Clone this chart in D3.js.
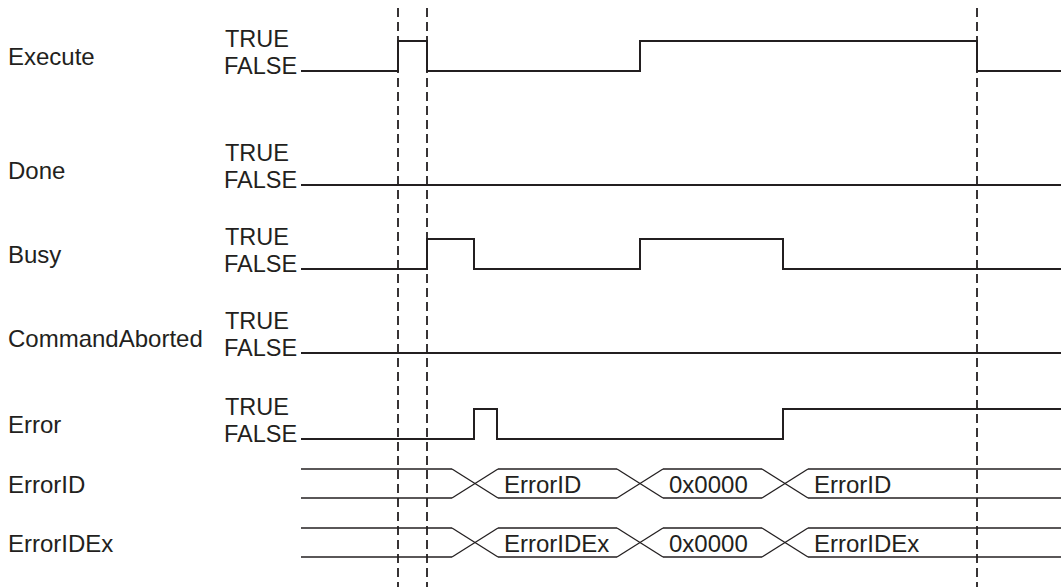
<!DOCTYPE html>
<html lang="en">
<head>
    <meta charset="UTF-8">
    <title>Timing chart - ErrorID</title>
    <style>
        body { margin: 0; background: #fff; }
        text { font-family: "Liberation Sans", Arial, sans-serif; fill: #231f20; }
    </style>
</head>
<body>
    <script src="https://d3js.org/d3.v7.min.js"></script>
    <script>
        // signal names (top to bottom)
        const bitSignals = ["Execute", "Done", "Busy", "CommandAborted", "Error"];
        const busSignals = ["ErrorID", "ErrorIDEx"];

        // bit signals: [time, level] change points (step after)
        const executeSteps = [[0, 0], [97, 1], [126, 0], [339, 1], [676, 0]];
        const doneSteps = [[0, 0]];
        const busySteps = [[0, 0], [126, 1], [173, 0], [339, 1], [482, 0]];
        const abortedSteps = [[0, 0]];
        const errorSteps = [[0, 0], [173, 1], [196, 0], [482, 1]];

        // bus signals: times where the value changes, and the value after each change
        const busChanges = [174, 339, 484];
        const errorIdValues = ["ErrorID", "0x0000", "ErrorID"];
        const errorIdExValues = ["ErrorIDEx", "0x0000", "ErrorIDEx"];

        // dashed marker lines
        const markers = [97, 126, 676];
        const levelNames = ["TRUE", "FALSE"];
        const endTime = 760;

        const width = 1061, height = 587;
        const ink = "#231f20";

        const svg = d3.select("body").append("svg")
            .attr("width", width)
            .attr("height", height);

        const x = d3.scaleLinear().domain([0, endTime]).range([301, 1061]);

        // row layout (y of FALSE level for bit rows, bottom line for bus rows)
        const bitLow = [71, 185, 269, 353, 439];
        const busBottom = [498, 557];
        const busH = 29, bitH = 30;
        const cross = 23;

        const stepsList = [executeSteps, doneSteps, busySteps, abortedSteps, errorSteps];

        // dashed markers
        svg.selectAll("line.marker").data(markers).enter().append("line")
            .attr("class", "marker")
            .attr("x1", d => x(d)).attr("x2", d => x(d))
            .attr("y1", 8).attr("y2", height)
            .attr("stroke", ink)
            .attr("stroke-width", 1.8)
            .attr("stroke-dasharray", "9,5");

        // bit rows
        bitSignals.forEach(function(name, i) {
            const low = bitLow[i], high = low - bitH;
            const y = d3.scaleLinear().domain([0, 1]).range([low, high]);
            const steps = stepsList[i].concat([[endTime, stepsList[i][stepsList[i].length - 1][1]]]);

            svg.append("path")
                .datum(steps)
                .attr("fill", "none")
                .attr("stroke", ink)
                .attr("stroke-width", 2)
                .attr("d", d3.line().x(d => x(d[0])).y(d => y(d[1])).curve(d3.curveStepAfter));

            svg.append("text").attr("x", 8).attr("y", low - 6)
                .attr("font-size", 24).text(name);
            svg.append("text").attr("x", 225).attr("y", low - 24)
                .attr("font-size", 23.5).text(levelNames[0]);
            svg.append("text").attr("x", 224).attr("y", low + 3)
                .attr("font-size", 23.5).text(levelNames[1]);
        });

        // bus rows
        const busValues = [errorIdValues, errorIdExValues];
        busSignals.forEach(function(name, i) {
            const bot = busBottom[i], top = bot - busH;
            let topPts = [[x(0), top]], botPts = [[x(0), bot]];
            const g = svg.append("g");

            busChanges.forEach(function(t) {
                const a = x(t - cross), b = x(t + cross);
                topPts.push([a, top]);
                botPts.push([a, bot]);
                g.append("path")
                    .attr("d", d3.line()([[a, top], [b, bot]]))
                    .attr("stroke", ink).attr("stroke-width", 1.3).attr("fill", "none");
                g.append("path")
                    .attr("d", d3.line()([[a, bot], [b, top]]))
                    .attr("stroke", ink).attr("stroke-width", 1.3).attr("fill", "none");
                // segments split at crossings
                g.append("path").datum(topPts)
                    .attr("d", d3.line()).attr("stroke", ink).attr("stroke-width", 1.6).attr("fill", "none");
                g.append("path").datum(botPts)
                    .attr("d", d3.line()).attr("stroke", ink).attr("stroke-width", 1.6).attr("fill", "none");
                topPts = [[b, top]];
                botPts = [[b, bot]];
            });
            topPts.push([x(endTime), top]);
            botPts.push([x(endTime), bot]);
            g.append("path").datum(topPts)
                .attr("d", d3.line()).attr("stroke", ink).attr("stroke-width", 1.6).attr("fill", "none");
            g.append("path").datum(botPts)
                .attr("d", d3.line()).attr("stroke", ink).attr("stroke-width", 1.6).attr("fill", "none");

            g.selectAll("text.val").data(busValues[i]).enter().append("text")
                .attr("class", "val")
                .attr("x", (d, k) => x(busChanges[k] + cross) + 6)
                .attr("y", bot - 5)
                .attr("font-size", 24)
                .text(d => d);

            svg.append("text").attr("x", 8).attr("y", bot - 5)
                .attr("font-size", 24).text(name);
        });
    </script>
</body>
</html>
